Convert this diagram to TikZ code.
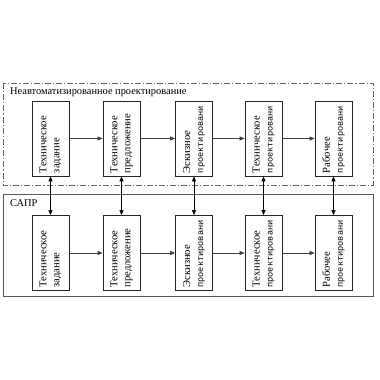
\documentclass[tikz,border=0pt]{standalone}
\usepackage{fontspec}
\setmainfont{Liberation Serif}
\newfontfamily\monof{Liberation Mono}
\usetikzlibrary{arrows.meta}
\begin{document}
\begin{tikzpicture}[x=1pt,y=-1pt,
  stagebox/.style={draw=black!85, line width=0.8pt, rotate=90, minimum height=37pt,
    text width=69pt, inner xsep=3pt, inner ysep=0pt, align=left,
    font=\fontsize{10.6}{13}\selectfont},
  flow/.style={draw=black!75, line width=0.7pt, -{Triangle[length=5pt,width=4pt]}},
  link/.style={draw=black, line width=0.7pt, {Triangle[length=5pt,width=4pt]}-{Triangle[length=5pt,width=4pt]}},
  frametitle/.style={anchor=west, inner sep=0pt, font=\fontsize{10.4}{12}\selectfont}]
\useasboundingbox (0,0) rectangle (380,380);
\fill[white] (0,0) rectangle (380,380);
% frames
\draw[black!60, line width=0.8pt, dash pattern=on 6pt off 2pt on 1.2pt off 2pt] (3,83) rectangle (373,185);
\draw[black!65, line width=0.9pt] (3,194) rectangle (373,296);
\node[frametitle] (ttl) at (10,92) {Неавтоматизированное проектирование};
\node[frametitle] (sapr) at (10,203) {САПР};
% top row
\node[stagebox] (t1) at (50.5,138.5) {Техническое\\задание};
\node[stagebox] (t2) at (121.5,138.5) {Техническое\\предложение};
\node[stagebox] (t3) at (194,138.5) {Эскизное\\{\monof\fontsize{8.6}{13}\selectfont проектировани}};
\node[stagebox] (t4) at (263.5,138.5) {Техническое\\{\monof\fontsize{8.6}{13}\selectfont проектировани}};
\node[stagebox] (t5) at (333.5,138.5) {Рабочее\\{\monof\fontsize{8.6}{13}\selectfont проектировани}};
% bottom row
\node[stagebox] (s1) at (50.5,253) {Техническое\\задание};
\node[stagebox] (s2) at (121.5,253) {Техническое\\предложение};
\node[stagebox] (s3) at (194,253) {Эскизное\\{\monof\fontsize{8.6}{13}\selectfont проектировани}};
\node[stagebox] (s4) at (263.5,253) {Техническое\\{\monof\fontsize{8.6}{13}\selectfont проектировани}};
\node[stagebox] (s5) at (333.5,253) {Рабочее\\{\monof\fontsize{8.6}{13}\selectfont проектировани}};
% horizontal flows
\foreach \a/\b in {t1/t2,t2/t3,t3/t4,t4/t5,s1/s2,s2/s3,s3/s4,s4/s5}
  \draw[flow] (\a.south) -- (\b.north);
% vertical links
\foreach \i in {1,...,5}
  \draw[link] (t\i.west) -- (s\i.east);
\end{tikzpicture}
\end{document}
